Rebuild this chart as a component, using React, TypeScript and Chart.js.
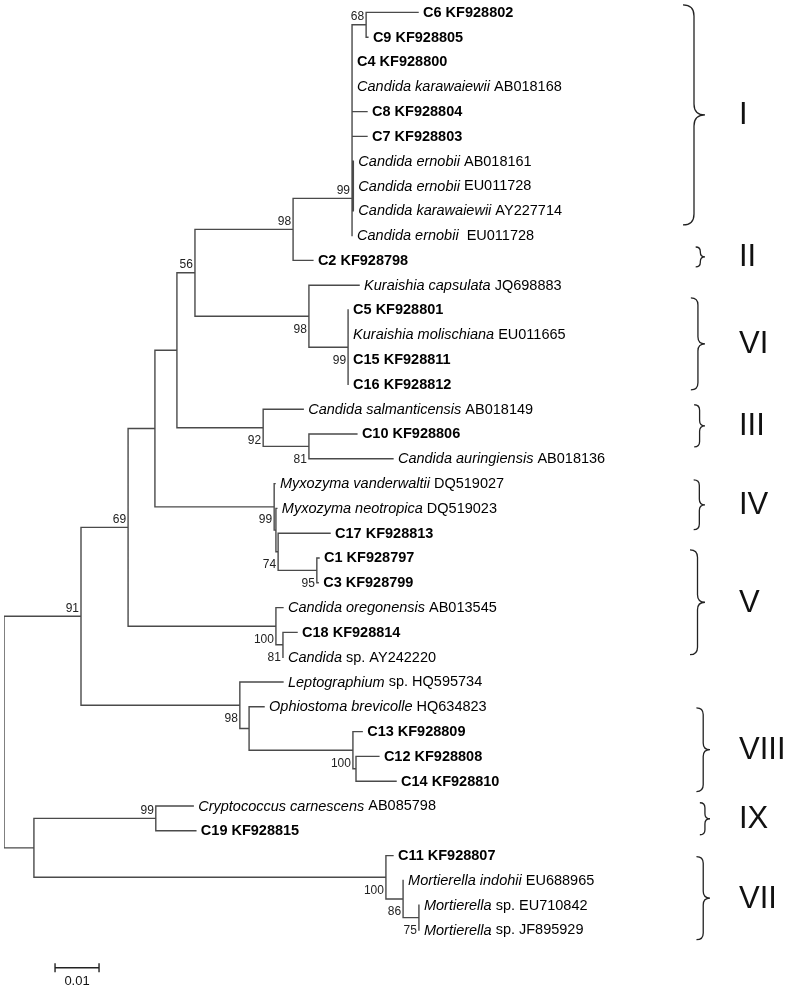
import React, { useEffect, useRef } from 'react';
import { Chart, registerables } from 'chart.js';
Chart.register(...registerables);

// ---- Leaves (top to bottom). **bold**, *italic* ----
const leafLabels = [
  '**C6 KF928802**',
  '**C9 KF928805**',
  '**C4 KF928800**',
  '*Candida karawaiewii* AB018168',
  '**C8 KF928804**',
  '**C7 KF928803**',
  '*Candida ernobii* AB018161',
  '*Candida ernobii* EU011728',
  '*Candida karawaiewii* AY227714',
  '*Candida ernobii*  EU011728',
  '**C2 KF928798**',
  '*Kuraishia capsulata* JQ698883',
  '**C5 KF928801**',
  '*Kuraishia molischiana* EU011665',
  '**C15 KF928811**',
  '**C16 KF928812**',
  '*Candida salmanticensis* AB018149',
  '**C10 KF928806**',
  '*Candida auringiensis* AB018136',
  '*Myxozyma vanderwaltii* DQ519027',
  '*Myxozyma neotropica* DQ519023',
  '**C17 KF928813**',
  '**C1 KF928797**',
  '**C3 KF928799**',
  '*Candida oregonensis* AB013545',
  '**C18 KF928814**',
  '*Candida* sp. AY242220',
  '*Leptographium* sp. HQ595734',
  '*Ophiostoma brevicolle* HQ634823',
  '**C13 KF928809**',
  '**C12 KF928808**',
  '**C14 KF928810**',
  '*Cryptococcus carnescens* AB085798',
  '**C19 KF928815**',
  '**C11 KF928807**',
  '*Mortierella indohii* EU688965',
  '*Mortierella* sp. EU710842',
  '*Mortierella* sp. JF895929',
];

// distance from root of each leaf tip
const leafDepth = [
  0.0941, 0.0827, 0.0791, 0.0791, 0.0825, 0.0825, 0.0794, 0.0794, 0.0794, 0.0791,
  0.0702, 0.0807, 0.0782, 0.0782, 0.0782, 0.0782, 0.0680, 0.0802, 0.0884, 0.0616,
  0.0620, 0.0741, 0.0716, 0.0714, 0.0634, 0.0666, 0.0634, 0.0634, 0.0591, 0.0814,
  0.0852, 0.0891, 0.0430, 0.0436, 0.0884, 0.0907, 0.0943, 0.0943,
];

// ---- Internal nodes ----
const nodeIds = [
  'R', 'N91', 'N69', 'Nup', 'Na', 'N56', 'N98c', 'N99c', 'N68', 'Nsub',
  'N98k', 'N99k', 'N92', 'N81', 'N99m', 'Nq', 'N74', 'N95', 'N100o', 'N81o',
  'N98l', 'Noph', 'N100c', 'Nc12', 'NB', 'N99cr', 'N100m', 'N86', 'N75',
];
const nodeDepth = [
  0, 0.0175, 0.0282, 0.0343, 0.0393, 0.0434, 0.0657, 0.0791, 0.0823, 0.0794,
  0.0693, 0.0782, 0.0589, 0.0693, 0.0614, 0.0618, 0.0623, 0.0711, 0.0618, 0.0634,
  0.0536, 0.0557, 0.0793, 0.0800, 0.0068, 0.0345, 0.0868, 0.0907, 0.0943,
];
const nodeChildren = [
  'N91,NB', 'N69,N98l', 'Nup,N100o', 'Na,N99m', 'N56,N92', 'N98c,N98k', 'N99c,L10',
  'N68,L2,L3,L4,L5,Nsub,L9', 'L0,L1', 'L6,L7,L8',
  'L11,N99k', 'L12,L13,L14,L15', 'L16,N81', 'L17,L18', 'L19,Nq', 'L20,N74', 'L21,N95',
  'L22,L23', 'L24,N81o', 'L25,L26',
  'L27,Noph', 'L28,N100c', 'L29,Nc12', 'L30,L31', 'N99cr,N100m', 'L32,L33', 'L34,N86',
  'L35,N75', 'L36,L37',
];
const nodeSupport = [
  '', '91', '69', '', '', '56', '98', '99', '68', '',
  '98', '99', '92', '81', '99', '', '74', '95', '100', '81',
  '98', '', '100', '', '', '99', '100', '86', '75',
];
const supportSide = [
  '', 'a', 'a', '', '', 'a', 'a', 'a', 'a', '',
  'b', 'b', 'b', 'b', 'b', '', 'b', 'b', 'b', 'b',
  'b', '', 'b', '', '', 'a', 'b', 'b', 'b',
];
// node drawn at the middle of these leaf rows (multifurcation)
const nodeLeafSpan: Record<string, [number, number]> = { N99c: [6, 9] };

// ---- Clade brackets ----
const cladeNames = ['I', 'II', 'VI', 'III', 'IV', 'V', 'VIII', 'IX', 'VII'];
const cladeTop = [-0.3, 9.46, 11.51, 15.82, 18.85, 21.67, 28.04, 31.87, 34.04];
const cladeBottom = [8.57, 10.26, 15.22, 17.52, 20.86, 25.9, 31.42, 33.16, 37.39];

const scaleBarStart = 0.0116;
const scaleBarLength = 0.01;
const scaleBarLabel = '0.01';
const scaleBarRow = 38.52;

const FONT = '"Liberation Sans", Arial, Helvetica, sans-serif';

function buildTree() {
  const idx: Record<string, number> = {};
  nodeIds.forEach((id, i) => (idx[id] = i));
  const yCache: Record<string, number> = {};
  const depthOf = (id: string) =>
    id[0] === 'L' ? leafDepth[parseInt(id.slice(1), 10)] : nodeDepth[idx[id]];
  const yOf = (id: string): number => {
    if (id[0] === 'L') return parseInt(id.slice(1), 10);
    if (yCache[id] !== undefined) return yCache[id];
    let y: number;
    if (nodeLeafSpan[id]) {
      y = (nodeLeafSpan[id][0] + nodeLeafSpan[id][1]) / 2;
    } else {
      const ch = nodeChildren[idx[id]].split(',');
      y = (yOf(ch[0]) + yOf(ch[ch.length - 1])) / 2;
    }
    yCache[id] = y;
    return y;
  };
  const segs: number[][] = [];
  nodeIds.forEach((id, i) => {
    const ch = nodeChildren[i].split(',');
    const ys = ch.map(yOf);
    const x = nodeDepth[i];
    segs.push([x, Math.min(...ys), x, Math.max(...ys)]);
    ch.forEach((c, k) => segs.push([x, ys[k], depthOf(c), ys[k]]));
  });
  return { segs, yOf, depthOf };
}

export default function App() {
  const ref = useRef<HTMLCanvasElement>(null);
  useEffect(() => {
    document.body.style.margin = '0';
    const { segs, yOf } = buildTree();
    const pts: any[] = [];
    segs.forEach(([x1, y1, x2, y2]) => {
      pts.push({ x: x1, y: y1 }, { x: x2, y: y2 }, { x: x2, y: null });
    });
    const barPts = [
      { x: scaleBarStart, y: scaleBarRow },
      { x: scaleBarStart + scaleBarLength, y: scaleBarRow },
      { x: scaleBarStart + scaleBarLength, y: null },
      { x: scaleBarStart, y: scaleBarRow - 0.18 },
      { x: scaleBarStart, y: scaleBarRow + 0.18 },
      { x: scaleBarStart, y: null },
      { x: scaleBarStart + scaleBarLength, y: scaleBarRow - 0.18 },
      { x: scaleBarStart + scaleBarLength, y: scaleBarRow + 0.18 },
    ];

    const textPlugin = {
      id: 'treeText',
      afterDatasetsDraw(chart: any) {
        const ctx = chart.ctx as CanvasRenderingContext2D;
        const xs = chart.scales.x;
        const ysc = chart.scales.y;
        ctx.save();
        // leaf labels
        ctx.fillStyle = '#000';
        ctx.textBaseline = 'middle';
        ctx.textAlign = 'left';
        leafLabels.forEach((lab, i) => {
          let x = xs.getPixelForValue(leafDepth[i]) + 5;
          const y = ysc.getPixelForValue(i) + 0.5;
          if (lab.startsWith('**')) {
            ctx.font = `bold 14.5px ${FONT}`;
            ctx.fillText(lab.replace(/\*\*/g, ''), x, y);
          } else {
            lab.split('*').forEach((part, k) => {
              if (!part) return;
              ctx.font = `${k % 2 === 1 ? 'italic ' : ''}14.5px ${FONT}`;
              ctx.fillText(part, x, y);
              x += ctx.measureText(part).width;
            });
          }
        });
        // bootstrap values
        ctx.font = `12px ${FONT}`;
        ctx.fillStyle = '#222';
        ctx.textAlign = 'right';
        nodeIds.forEach((id, i) => {
          if (!nodeSupport[i]) return;
          const x = xs.getPixelForValue(nodeDepth[i]) - 2;
          const y = ysc.getPixelForValue(yOf(id)) + (supportSide[i] === 'a' ? -8 : 13);
          ctx.fillText(nodeSupport[i], x, y);
        });
        // scale bar label
        ctx.textAlign = 'center';
        ctx.font = `13px ${FONT}`;
        ctx.fillStyle = '#111';
        ctx.fillText(
          scaleBarLabel,
          xs.getPixelForValue(scaleBarStart + scaleBarLength / 2),
          ysc.getPixelForValue(scaleBarRow) + 14
        );
        // clade braces
        ctx.strokeStyle = '#222';
        ctx.lineWidth = 1.3;
        cladeNames.forEach((name, i) => {
          const top = ysc.getPixelForValue(cladeTop[i]);
          const bot = ysc.getPixelForValue(cladeBottom[i]);
          const mid = (top + bot) / 2;
          const h = bot - top;
          const tip = i < 6 ? 705 : 710;
          const r = Math.min(11, 4 + h / 30);
          ctx.beginPath();
          ctx.moveTo(tip - 2 * r, top);
          ctx.quadraticCurveTo(tip - r, top, tip - r, top + r);
          ctx.lineTo(tip - r, mid - r);
          ctx.quadraticCurveTo(tip - r, mid, tip, mid);
          ctx.quadraticCurveTo(tip - r, mid, tip - r, mid + r);
          ctx.lineTo(tip - r, bot - r);
          ctx.quadraticCurveTo(tip - r, bot, tip - 2 * r, bot);
          ctx.stroke();
          ctx.font = `31px ${FONT}`;
          ctx.fillStyle = '#111';
          ctx.textAlign = 'left';
          ctx.textBaseline = 'middle';
          ctx.fillText(name, 739, mid + 1);
        });
        ctx.restore();
      },
    };

    const chart = new Chart(ref.current as HTMLCanvasElement, {
      type: 'line',
      data: {
        datasets: [
          {
            data: pts,
            borderColor: '#4a4a4a',
            borderWidth: 1.4,
            pointRadius: 0,
            spanGaps: false,
            tension: 0,
            borderCapStyle: 'square',
          } as any,
          {
            data: barPts,
            borderColor: '#222',
            borderWidth: 1.4,
            pointRadius: 0,
            spanGaps: false,
            tension: 0,
          } as any,
        ],
      },
      options: {
        animation: false,
        responsive: false,
        devicePixelRatio: 1,
        layout: { padding: { left: 4, right: 16, top: 0, bottom: 0 } },
        scales: {
          x: { type: 'linear', min: 0, max: 0.175, display: false },
          y: { type: 'linear', min: -0.5, max: 39.42, reverse: true, display: false },
        },
        plugins: { legend: { display: false }, tooltip: { enabled: false } },
        events: [],
      } as any,
      plugins: [textPlugin],
    });
    return () => chart.destroy();
  }, []);
  return (
    <div style={{ width: 790, height: 990, background: '#fff' }}>
      <canvas ref={ref} width={790} height={990} style={{ display: 'block' }} />
    </div>
  );
}
